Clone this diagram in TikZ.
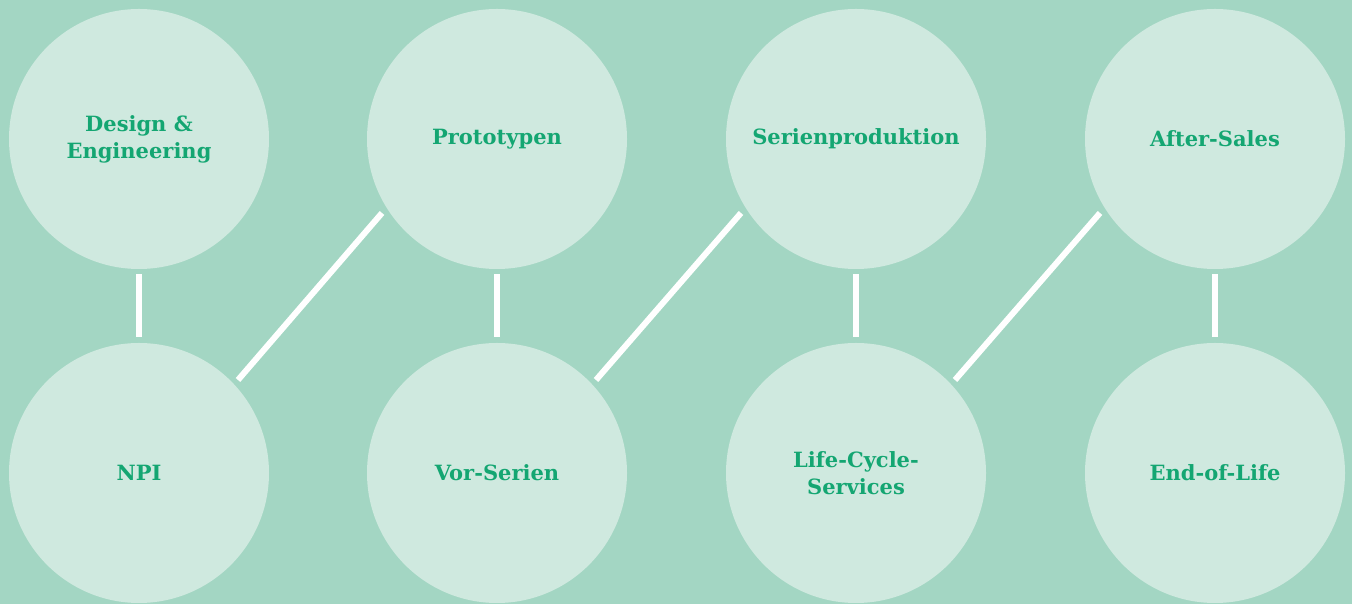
\documentclass[tikz,border=0pt]{standalone}
\usepackage{fontspec}
\setmainfont{DejaVu Serif}
\usetikzlibrary{calc}
\definecolor{bg}{HTML}{A3D6C3}
\definecolor{disc}{HTML}{CFE9DF}
\definecolor{txt}{HTML}{14A672}
\begin{document}
\begin{tikzpicture}[x=1pt,y=1pt,
  stage/.style={circle,fill=disc,minimum size=260pt,inner sep=0pt,outer sep=0pt,
    text=txt,font=\bfseries\fontsize{21}{27}\selectfont,align=center},
  link/.style={draw=white,line width=6pt}]
\fill[bg] (0,0) rectangle (1352,604);
\useasboundingbox (0,0) rectangle (1352,604);
\node[stage] (de) at (139,465) {Design \&\\Engineering};
\node[stage] (pt) at (497,465) {Prototypen};
\node[stage] (sp) at (856,465) {Serienproduktion};
\node[stage] (as) at (1215,465) {After-Sales};
\node[stage] (npi) at (139,131) {NPI};
\node[stage] (vs) at (497,131) {Vor-Serien};
\node[stage] (lc) at (856,131) {Life-Cycle-\\Services};
\node[stage] (eol) at (1215,131) {End-of-Life};
\coordinate (a1) at ($(npi.center)+(99,93)$);
\coordinate (b1) at ($(pt.center)+(-115,-74)$);
\coordinate (a2) at ($(vs.center)+(99,93)$);
\coordinate (b2) at ($(sp.center)+(-115,-74)$);
\coordinate (a3) at ($(lc.center)+(99,93)$);
\coordinate (b3) at ($(as.center)+(-115,-74)$);
\path[link] ($(de.south)+(0,-5)$) -- ($(npi.north)+(0,6)$);
\path[link] ($(pt.south)+(0,-5)$) -- ($(vs.north)+(0,6)$);
\path[link] ($(sp.south)+(0,-5)$) -- ($(lc.north)+(0,6)$);
\path[link] ($(as.south)+(0,-5)$) -- ($(eol.north)+(0,6)$);
\path[link] (a1) -- (b1);
\path[link] (a2) -- (b2);
\path[link] (a3) -- (b3);
\end{tikzpicture}
\end{document}
